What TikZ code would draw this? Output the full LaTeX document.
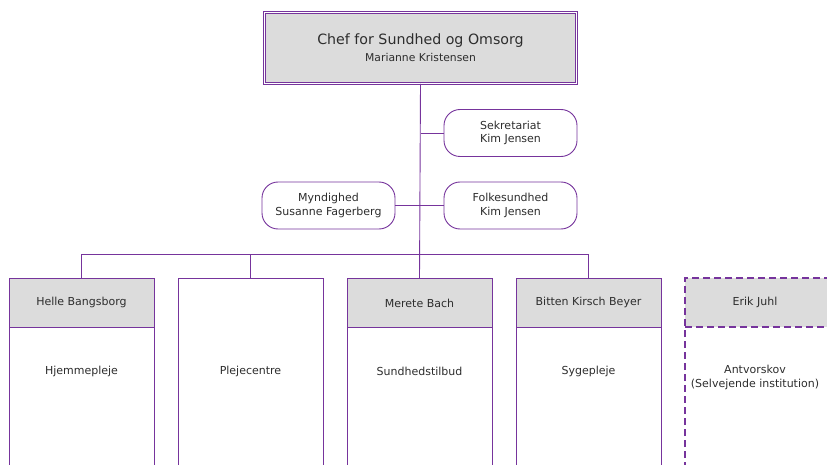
\documentclass[tikz,border=0pt]{standalone}
\usepackage{fontspec}
\setmainfont{DejaVu Sans}
\definecolor{orgline}{RGB}{118,52,156}
\definecolor{hdrfill}{RGB}{220,220,220}
\definecolor{txt}{RGB}{45,45,45}
\tikzset{
  conn/.style={draw=orgline, line width=0.9pt},
  topbox/.style={draw=orgline, fill=hdrfill, double, double distance=1.6pt, line width=0.7pt, minimum width=312pt, minimum height=71pt, inner sep=0pt},
  roundbox/.style={draw=orgline, line width=0.9pt, rounded corners=16pt, minimum width=133pt, minimum height=47pt, align=center, font=\fontsize{11}{13.5}\selectfont, text=txt, fill=white},
  hdr/.style={draw=orgline, line width=0.9pt, fill=hdrfill, minimum width=145pt, minimum height=49pt, anchor=north, inner sep=0pt, font=\fontsize{11}{13.5}\selectfont, text=txt},
  body/.style={draw=orgline, line width=0.9pt, fill=white, minimum width=145pt, anchor=north, inner sep=0pt},
  bodytxt/.style={align=center, font=\fontsize{11}{13.5}\selectfont, text=txt, inner sep=0pt},
  dashbox/.style={draw=orgline, line width=1.2pt, dash pattern=on 7pt off 4pt},
}
\begin{document}
\begin{tikzpicture}[x=1pt, y=-1pt]
\useasboundingbox (0,0) rectangle (827,465);
\clip (0,0) rectangle (827,465);
% top box
\node[topbox] (top) at (420.5,48) {};
\node[font=\fontsize{14.2}{17}\selectfont, text=txt, inner sep=0pt] (title) at (420.5,41) {Chef for Sundhed og Omsorg};
\node[font=\fontsize{10.8}{13}\selectfont, text=txt, inner sep=0pt] (sub) at (420.5,57) {Marianne Kristensen};
% staff boxes
\node[roundbox] (sek) at (510.5,133) {Sekretariat\\Kim Jensen};
\node[roundbox] (folk) at (510.5,205.5) {Folkesundhed\\Kim Jensen};
\node[roundbox] (mynd) at (328.5,205.5) {Myndighed\\Susanne Fagerberg};
% bottom headers
\node[hdr] (h1) at (81.5,278) {Helle Bangsborg};
\node[body, minimum height=150pt] (b1) at (81.5,327) {};
\node[body, minimum height=199pt] (b2) at (250.5,278) {};
\node[hdr] (h3) at (419.5,278) {Merete Bach};
\node[body, minimum height=150pt] (b3) at (419.5,327) {};
\node[hdr] (h4) at (588.5,278) {Bitten Kirsch Beyer};
\node[body, minimum height=150pt] (b4) at (588.5,327) {};
% dashed box
\node[minimum width=145pt, minimum height=49pt, anchor=north, inner sep=0pt, fill=hdrfill] (h5) at (757.5,278) {};
\draw[dashbox] (685,480) -- (685,278) -- (840,278);
\draw[dashbox] (685,327) -- (840,327);
\node[font=\fontsize{11}{13.5}\selectfont, text=txt, inner sep=0pt] (h5t) at (755,302) {Erik Juhl};
% body texts
\node[bodytxt] (t1) at (81.5,371) {Hjemmepleje};
\node[bodytxt] (t2) at (250.5,371) {Plejecentre};
\node[bodytxt] (t3) at (419.5,371) {Sundhedstilbud};
\node[bodytxt] (t4) at (588.5,371) {Sygepleje};
\node[bodytxt, anchor=north] (t5) at (755,365) {Antvorskov\\(Selvejende institution)};
% connectors
\coordinate (bus) at (420,254.5);
\draw[conn] (top.south) -- (h3.north);
\draw[conn] (top.south |- sek.west) -- (sek.west);
\draw[conn] (mynd.east) -- (folk.west);
\draw[conn] (h1.north) |- (bus) -| (h4.north);
\draw[conn] (b2.north) -- (b2.north |- bus);
\end{tikzpicture}
\end{document}
